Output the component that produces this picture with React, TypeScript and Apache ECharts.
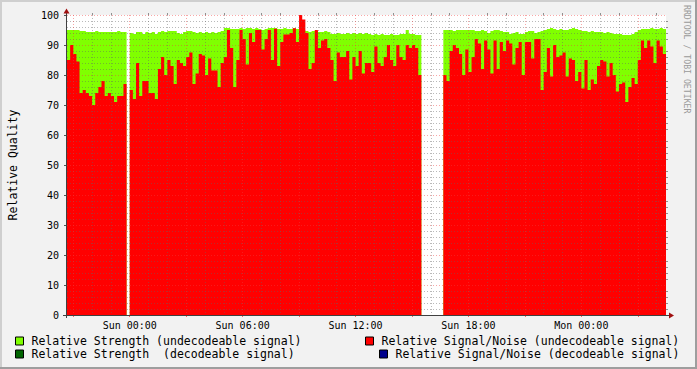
import React, { useEffect, useRef } from "react";
import * as echarts from "echarts";

// ---- time axis: 10-minute steps starting Sat 20:40 ----
const DAYS = ["Sat", "Sun", "Mon"];
const START_MIN = 20 * 60 + 40; // minutes after Sat 00:00
const STEP_MIN = 10;

// ---- series values (one value per 10-minute step) ----
const SNR_UNDECODEABLE: (number | null)[] = [
  85, 90, 87, 84.5, 74, 75, 74, 73, 70, 74,
  76, 78, 73, 74, 73, 71, 73, 73, 77, null,
  75, 72, 84, 73, 78, 78, 74, 74, 72, 82,
  86, 80, 85, 83, 77, 85, 84, 83, 86, 87.5,
  77, 80.5, 87, 86.5, 80, 85.5, 81.5, 81.5, 76, 84,
  86, 95, 89, 76, 85, 95, 92, 83.5, 94, 91,
  95, 95, 88.5, 92, 95, 85, 95.4, 83, 91, 93.5,
  93.5, 94, 95.6, 91, 100, 98.5, 94, 82, 84, 95,
  89, 91.5, 92, 89, 85, 78, 87.5, 86, 86, 88,
  78.5, 86, 83, 88, 80.5, 84, 84, 81, 89.5, 84,
  83, 86, 90, 85, 83, 90, 86, 85, 90, 89,
  90, 89, 80, null, null, null, null, null, null, null,
  80, 78, 88, 90, 89, 87, 80, 88.5, 81, 86,
  92, 90.5, 82, 91.5, 88.5, 80.5, 91.5, 82, 91, 88,
  91.5, 90.5, 83.5, 89, 91, 80, 91, 91, 85.5, 92,
  92, 75, 81, 89, 79.5, 90, 86, 86.5, 87.5, 79.5,
  85.5, 85, 78, 81, 75.5, 85, 75, 78.5, 77, 83,
  85, 84.5, 79.5, 84, 80, 74.5, 77, 77.5, 71, 76,
  79, 77, 85, 91.5, 89, 91.5, 89.5, 84, 91.5, 89.5,
  87,
];

const STRENGTH_UNDECODEABLE: (number | null)[] = [
  95, 95, 95, 95, 94.7, 94.7, 94.3, 94.3, 94.3, 94.7,
  94.3, 94.3, 94.3, 94.3, 94.3, 94.3, 94.7, 94.3, 94.3, null,
  94, 93.7, 94.3, 94.3, 93.7, 94.3, 94, 94.3, 93.7, 94.3,
  94.7, 94.3, 94.7, 94.7, 94.7, 94, 93.7, 94.3, 94.7, 94.7,
  94.3, 94, 94.3, 94, 94.3, 94, 94.3, 94, 94.3, 94.7,
  95.7, 95.7, 95.3, 95.3, 95.3, 95.7, 95.3, 95.7, 95.7, 95.3,
  95.7, 95.3, 95, 95.3, 95.7, 95.7, 95.7, 95.3, 95.3, 95.7,
  95.3, 95.3, 95.7, 95.3, 95, 95, 94.7, 94.3, 94.7, 94.7,
  94.3, 94.3, 94.7, 94.3, 93.7, 93.7, 94, 93.7, 93.7, 94,
  93.7, 94, 93.7, 94, 93.7, 94, 93.7, 93.3, 93.7, 93.3,
  93.7, 93.3, 93.3, 93.7, 93.3, 93.3, 93.7, 93.7, 95, 93.7,
  93.7, 93.3, 93.3, null, null, null, null, null, null, null,
  95, 95, 95, 94.7, 95, 95, 95, 95, 95, 95,
  94.7, 94.7, 95, 94.7, 94, 94.7, 95, 95, 94.7, 94.3,
  94.3, 93.7, 94, 94.3, 93.7, 93.7, 94.3, 94.7, 94.7, 94,
  94.3, 94.7, 95, 95.3, 95.7, 95.3, 95, 95.3, 95, 95,
  95.3, 95.7, 95.3, 95, 94.7, 94.7, 94.3, 94.7, 94.3, 94.3,
  94.3, 94, 94.3, 94, 93.7, 93.7, 93.7, 93.3, 93.3, 93.3,
  93.7, 94.3, 95, 95.3, 95.3, 95.3, 95.7, 95.3, 95.3, 95.7,
  95.3,
];

const SNR_DECODEABLE: (number | null)[] = [];
const STRENGTH_DECODEABLE: (number | null)[] = [];

const SERIES_NAMES = [
  "Relative Strength (undecodeable signal)",
  "Relative Strength  (decodeable signal)",
  "Relative Signal/Noise (undecodeable signal)",
  "Relative Signal/Noise (decodeable signal)",
];
const SERIES_COLORS = ["#80FF00", "#006400", "#FF0000", "#00008B"];

const Y_MAJOR = { min: 0, max: 100, step: 10 };
const Y_MINOR_TICKS = Array.from({ length: 51 }, (_, i) => String(i * 2));

const N = SNR_UNDECODEABLE.length;
const pad = (n: number) => (n < 10 ? "0" + n : String(n));
const BOUNDARY_MIN = Array.from({ length: N + 1 }, (_, j) => START_MIN + j * STEP_MIN);
const CATEGORIES = BOUNDARY_MIN.map(
  (m) => `${DAYS[Math.floor(m / 1440)]} ${pad(Math.floor((m % 1440) / 60))}:${pad(m % 60)}`
);

function stepData(vals: (number | null)[]) {
  const out: any[] = [];
  vals.forEach((v, i) => {
    if (v == null) {
      out.push([i + 0.5, "-"]);
    } else {
      out.push([i, v], [i + 1, v]);
    }
  });
  return out;
}

const FONT = "DejaVu Sans Mono";
const MAJOR_GRID = "rgba(240,60,60,0.45)";
const MINOR_GRID = "rgba(100,100,100,0.45)";

export default function App() {
  const ref = useRef<HTMLDivElement>(null);
  useEffect(() => {
    if (!ref.current) return;
    const chart = echarts.init(ref.current, undefined, { renderer: "svg" });
    const isMajor = (i: number) => BOUNDARY_MIN[i] % 180 === 0;
    const isMinor = (i: number) => BOUNDARY_MIN[i] % 60 === 0 && BOUNDARY_MIN[i] % 180 !== 0;
    const isLabel = (i: number) => BOUNDARY_MIN[i] % 360 === 0;

    const areaSeries = (idx: number, vals: (number | null)[], z: number) => ({
      name: SERIES_NAMES[idx],
      type: "line",
      xAxisIndex: 2,
      yAxisIndex: 0,
      data: stepData(vals),
      symbol: "none",
      showSymbol: false,
      silent: true,
      connectNulls: false,
      color: SERIES_COLORS[idx],
      lineStyle: { width: 0, color: SERIES_COLORS[idx] },
      areaStyle: { color: SERIES_COLORS[idx], opacity: 1, origin: "start" },
      z,
    });

    const legendPos = [
      { left: 15, top: 335 },
      { left: 15, top: 348 },
      { left: 365, top: 335 },
      { left: 379, top: 348 },
    ];

    chart.setOption({
      animation: false,
      backgroundColor: "#F2F2F2",
      textStyle: { fontFamily: FONT },
      grid: {
        left: 67,
        right: 31,
        top: 15,
        bottom: 54,
        containLabel: false,
        outerBoundsMode: "none",
        show: true,
        backgroundColor: "#FFFFFF",
        borderWidth: 0,
      },
      legend: SERIES_NAMES.map((name, i) => ({
        data: [name],
        left: legendPos[i].left,
        top: legendPos[i].top,
        padding: 0,
        selectedMode: false,
        icon: "rect",
        itemWidth: 8,
        itemHeight: 8,
        itemStyle: { borderColor: "#000000", borderWidth: 1 },
        textStyle: { fontFamily: FONT, fontSize: 11.5, color: "#000", padding: [0, 0, 0, 3] },
      })),
      xAxis: [
        {
          type: "category",
          data: CATEGORIES,
          boundaryGap: false,
          z: 11,
          axisLine: { show: false },
          axisTick: { show: true, interval: (i: number) => isMajor(i), length: 2, lineStyle: { color: "#FF6060" } },
          axisLabel: {
            interval: (i: number) => isLabel(i),
            fontFamily: FONT,
            fontSize: 10,
            color: "#000",
            margin: 5,
          },
          splitLine: { show: true, interval: (i: number) => isMajor(i) && i > 0, lineStyle: { color: MAJOR_GRID, type: [1, 2], width: 1 } },
        },
        {
          type: "category",
          data: CATEGORIES,
          boundaryGap: false,
          z: 10,
          axisLine: { show: false },
          axisTick: { show: true, interval: (i: number) => isMinor(i), length: 2, lineStyle: { color: "#909090" } },
          axisLabel: { show: false },
          splitLine: { show: true, interval: (i: number) => isMinor(i), lineStyle: { color: MINOR_GRID, type: [1, 2], width: 1 } },
        },
        { type: "value", min: 0, max: N, show: false },
      ],
      yAxis: [
        {
          type: "value",
          min: Y_MAJOR.min,
          max: Y_MAJOR.max,
          interval: Y_MAJOR.step,
          z: 11,
          name: "Relative Quality",
          nameLocation: "middle",
          nameGap: 48.5,
          nameTextStyle: { fontFamily: FONT, fontSize: 11.5, color: "#000" },
          axisLine: { show: false },
          axisTick: { show: true, length: 3, lineStyle: { color: "#505050" } },
          axisLabel: { fontFamily: FONT, fontSize: 10, color: "#000", margin: 8 },
          splitLine: { show: true, lineStyle: { color: MAJOR_GRID, type: [1, 2], width: 1 } },
        },
        {
          type: "category",
          data: Y_MINOR_TICKS,
          boundaryGap: false,
          z: 10,
          axisLine: { show: false },
          axisTick: { show: true, interval: (i: number) => i % 5 !== 0, length: 2, lineStyle: { color: "#909090" } },
          axisLabel: { show: false },
          splitLine: { show: true, interval: (i: number) => i % 5 !== 0, lineStyle: { color: MINOR_GRID, type: [1, 2], width: 1 } },
        },
      ],
      series: [
        areaSeries(0, STRENGTH_UNDECODEABLE, 2),
        areaSeries(1, STRENGTH_DECODEABLE, 2),
        areaSeries(2, SNR_UNDECODEABLE, 3),
        areaSeries(3, SNR_DECODEABLE, 3),
      ],
      graphic: [
        { type: "rect", shape: { x: 0, y: 0, width: 697, height: 2 }, style: { fill: "#CFCFCF" }, z: 100, silent: true },
        { type: "rect", shape: { x: 0, y: 0, width: 2, height: 369 }, style: { fill: "#CFCFCF" }, z: 100, silent: true },
        { type: "rect", shape: { x: 695, y: 0, width: 2, height: 369 }, style: { fill: "#9E9E9E" }, z: 100, silent: true },
        { type: "rect", shape: { x: 0, y: 367, width: 697, height: 2 }, style: { fill: "#9E9E9E" }, z: 100, silent: true },
        { type: "line", shape: { x1: 63, y1: 315.5, x2: 670, y2: 315.5 }, style: { stroke: "#404040", lineWidth: 1 }, z: 100, silent: true },
        { type: "line", shape: { x1: 66.5, y1: 318, x2: 66.5, y2: 12 }, style: { stroke: "#404040", lineWidth: 1 }, z: 100, silent: true },
        { type: "polygon", shape: { points: [[669, 312.5], [674, 315.5], [669, 318.5]] }, style: { fill: "#A01010" }, z: 100, silent: true },
        { type: "polygon", shape: { points: [[63.5, 13.5], [66.5, 8.5], [69.5, 13.5]] }, style: { fill: "#A01010" }, z: 100, silent: true },
        {
          type: "text",
          x: 687,
          y: 5,
          rotation: -Math.PI / 2,
          style: { text: "RRDTOOL / TOBI OETIKER", fontFamily: FONT, fontSize: 8.2, fill: "#9A9A9A", align: "left", verticalAlign: "middle" },
          z: 100,
          silent: true,
        },
      ],
    });
    return () => chart.dispose();
  }, []);
  return (
    <div
      ref={ref}
      style={{ position: "absolute", left: 0, top: 0, width: 697, height: 369 }}
    />
  );
}
